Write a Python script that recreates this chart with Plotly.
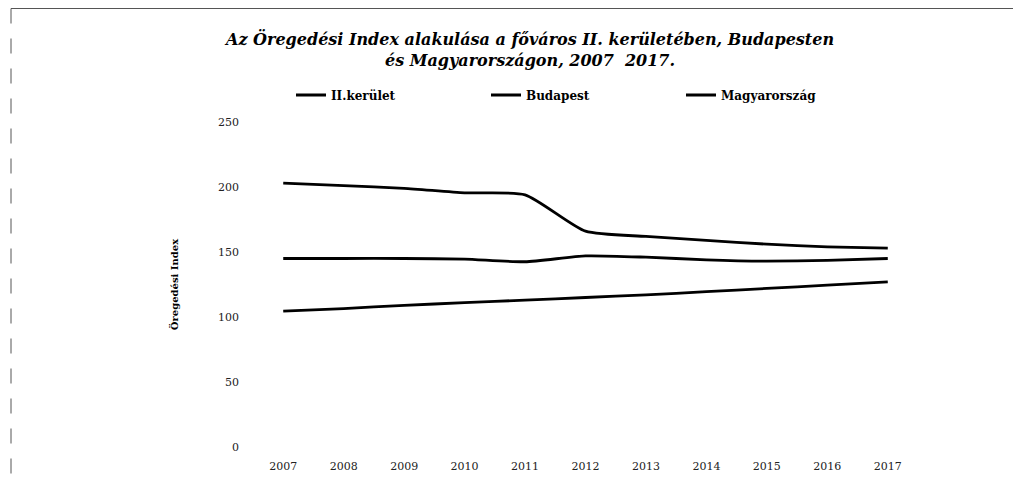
import plotly.graph_objects as go

years = [2007, 2008, 2009, 2010, 2011, 2012, 2013, 2014, 2015, 2016, 2017]
ii_kerulet = [203, 201, 199, 195.5, 194, 166, 162, 159, 156, 154, 153]
budapest = [145, 145, 145, 144.5, 142.5, 147, 146, 144, 143, 143.5, 145]
magyarorszag = [104.5, 106.5, 109, 111, 113, 115, 117, 119.5, 122, 124.5, 127]
series_names = ["II.kerület", "Budapest", "Magyarország"]
y_ticks = [0, 50, 100, 150, 200, 250]

W, H = 1021, 484
OFF = 8  # page body margin
L, R = 253 - OFF, 918 - OFF
T, B = 122 - OFF, 447 - OFF

fig = go.Figure()
for name, vals in zip(series_names, [ii_kerulet, budapest, magyarorszag]):
    fig.add_trace(go.Scatter(
        x=years, y=vals, name=name, mode="lines",
        line=dict(color="#000000", width=2.8, shape="spline", smoothing=0.6),
    ))

def px2paper_x(px):
    return (px - L) / (R - L)

def px2paper_y(py):
    return (B - py) / (B - T)

serif = "DejaVu Serif, serif"

fig.update_layout(
    width=W, height=H,
    margin=dict(l=L, r=W - R, t=T, b=H - B, autoexpand=False),
    paper_bgcolor="white", plot_bgcolor="white",
    showlegend=True,
    title=dict(
        text="<b><i>Az Öregedési Index alakulása a főváros II. kerületében, Budapesten<br>és Magyarországon, 2007  2017.</i></b>",
        x=(530 - OFF) / W, xref="container", xanchor="center",
        y=1 - 37 / H, yref="container", yanchor="middle",
        font=dict(family=serif, size=16, color="#000"),
    ),
    legend=dict(
        orientation="h", x=px2paper_x(291 - OFF), y=px2paper_y(95 - OFF), xanchor="left", yanchor="middle",
        font=dict(family=serif, size=12, color="#000", weight="bold"),
        entrywidth=150, entrywidthmode="pixels",
        bgcolor="rgba(0,0,0,0)",
    ),
    xaxis=dict(
        range=[2006.5, 2017.5], tickmode="array", tickvals=years,
        ticktext=[str(y) for y in years],
        showgrid=False, zeroline=False, showline=False, ticks="",
        tickfont=dict(family=serif, size=11, color="#222"),
        ticklabelstandoff=11, automargin=False,
    ),
    yaxis=dict(
        range=[0, 250], tickmode="array", tickvals=y_ticks,
        showgrid=False, zeroline=False, showline=False, ticks="",
        tickfont=dict(family=serif, size=11, color="#222"),
        ticklabelstandoff=13, automargin=False,
        title=dict(text="<b>Öregedési Index</b>", font=dict(family=serif, size=10, color="#000"), standoff=37),
    ),
)

# scanned frame lines (top and left)
fig.add_shape(type="line", xref="paper", yref="paper",
              x0=px2paper_x(3), x1=px2paper_x(1021), y0=px2paper_y(0.5), y1=px2paper_y(0.5),
              line=dict(color="#555", width=1))
fig.add_shape(type="line", xref="paper", yref="paper",
              x0=px2paper_x(3), x1=px2paper_x(3), y0=px2paper_y(0.5), y1=px2paper_y(470),
              line=dict(color="#555", width=1, dash="longdash"))

fig.write_html("out.html")
